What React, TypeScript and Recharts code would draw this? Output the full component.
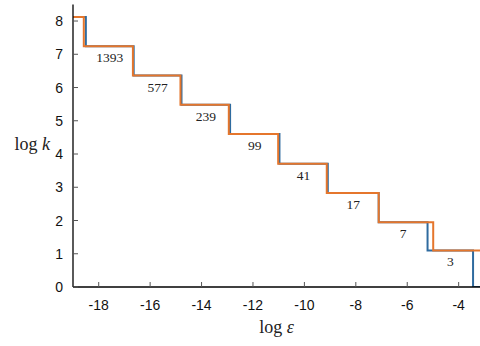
import { ComposedChart, Line, Scatter, XAxis, YAxis, Label } from "recharts";

// log k levels for k = 3363, 1393, 577, 239, 99, 41, 17, 7, 3, 1
const logK = [8.12, 7.24, 6.36, 5.48, 4.6, 3.71, 2.83, 1.95, 1.1, 0];
// log eps where each series drops to the next level (first entry = left edge)
const blueEdges = [-19, -18.5, -16.64, -14.78, -12.89, -10.97, -9.09, -7.11, -5.21, -3.44];
const orangeEdges = [-19, -18.58, -16.67, -14.82, -12.94, -11.02, -9.13, -7.11, -4.99];
const stepLabels = ["1393", "577", "239", "99", "41", "17", "7", "3"];
const xTicks = [-18, -16, -14, -12, -10, -8, -6, -4];
const yTicks = [0, 1, 2, 3, 4, 5, 6, 7, 8];

const X_MIN = -19;
const X_MAX = -3.17;

const blueData = [...blueEdges.map((x, i) => ({ x, y: logK[i] })), { x: X_MAX, y: 0 }];
const orangeData = [...orangeEdges.map((x, i) => ({ x, y: logK[i] })), { x: X_MAX, y: logK[8] }];
const labelData = stepLabels.map((text, i) => ({
  x: (blueEdges[i + 1] + blueEdges[i + 2]) / 2,
  y: logK[i + 1],
  text,
}));

const BLUE = "#2f6b9f";
const ORANGE = "#e5762c";
const SANS = "'Liberation Sans', Arial, sans-serif";
const SERIF = "'Liberation Serif', 'Times New Roman', serif";

const LeftTick = ({ x, y, payload }: any) => (
  <g>
    <line x1={x} x2={x + 5} y1={y} y2={y} stroke="#555" strokeWidth={1} />
    <text x={x - 10} y={y + 5} textAnchor="end" fontSize={14} fontFamily={SANS} fill="#111">
      {payload.value}
    </text>
  </g>
);

const BottomTick = ({ x, y, payload }: any) => (
  <g>
    <line x1={x} x2={x} y1={y} y2={y - 5} stroke="#555" strokeWidth={1} />
    <text x={x} y={y + 23} textAnchor="middle" fontSize={14} fontFamily={SANS} fill="#111">
      {payload.value}
    </text>
  </g>
);

const TopTick = ({ x, y }: any) => <line x1={x} x2={x} y1={y} y2={y + 5} stroke="#555" strokeWidth={1} />;

const StepLabel = ({ cx, cy, payload }: any) => (
  <text x={cx} y={cy + 16} textAnchor="middle" fontSize={13.5} fontFamily={SERIF} fill="#222">
    {payload.text}
  </text>
);

export default function App() {
  return (
    <div style={{ position: "absolute", left: 0, top: 0, width: 480, height: 346, overflow: "hidden", background: "#fff" }}>
      <ComposedChart width={480} height={346} margin={{ top: 4.4, right: 0, bottom: 0, left: 0 }}>
        <XAxis
          xAxisId="b"
          type="number"
          dataKey="x"
          domain={[X_MIN, X_MAX]}
          ticks={xTicks}
          allowDataOverflow
          height={59}
          tickSize={0}
          tickMargin={0}
          tickLine={false}
          tick={<BottomTick />}
          axisLine={{ stroke: "#000", strokeWidth: 1.3 }}
        >
          <Label
            content={({ viewBox }: any) => (
              <text x={viewBox.x + viewBox.width / 2} y={333} textAnchor="middle" fontSize={18} fontFamily={SERIF} fill="#222">
                log <tspan fontStyle="italic">ε</tspan>
              </text>
            )}
          />
        </XAxis>
        <XAxis
          xAxisId="t"
          orientation="top"
          type="number"
          dataKey="x"
          domain={[X_MIN, X_MAX]}
          ticks={xTicks}
          allowDataOverflow
          height={0}
          tickSize={0}
          tickMargin={0}
          tickLine={false}
          tick={<TopTick />}
          axisLine={{ stroke: "#000", strokeWidth: 1.3 }}
        />
        <YAxis
          yAxisId="l"
          type="number"
          dataKey="y"
          domain={[0, 8.5]}
          ticks={yTicks}
          allowDataOverflow
          width={73}
          tickSize={0}
          tickMargin={0}
          tickLine={false}
          tick={<LeftTick />}
          axisLine={{ stroke: "#000", strokeWidth: 1.3 }}
        >
          <Label
            content={() => (
              <text x={50} y={150} textAnchor="end" fontSize={18} fontFamily={SERIF} fill="#222">
                log <tspan fontStyle="italic">k</tspan>
              </text>
            )}
          />
        </YAxis>
        <Line
          xAxisId="b"
          yAxisId="l"
          data={blueData}
          dataKey="y"
          type="stepAfter"
          stroke={BLUE}
          strokeWidth={2}
          dot={false}
          isAnimationActive={false}
        />
        <Line
          xAxisId="b"
          yAxisId="l"
          data={orangeData}
          dataKey="y"
          type="stepAfter"
          stroke={ORANGE}
          strokeWidth={2}
          dot={false}
          isAnimationActive={false}
        />
        <Scatter
          xAxisId="b"
          yAxisId="l"
          data={labelData}
          dataKey="y"
          shape={<StepLabel />}
          isAnimationActive={false}
        />
      </ComposedChart>
    </div>
  );
}
